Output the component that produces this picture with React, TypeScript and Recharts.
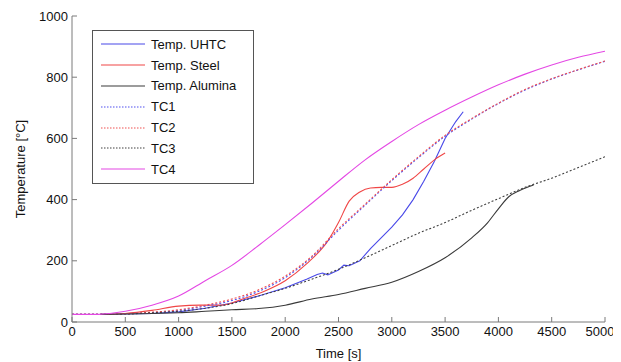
import React from 'react';
import { LineChart, Line, XAxis, YAxis } from 'recharts';

// time grid shared by the thermocouple curves
const tcTime = [0, 250, 500, 750, 1000, 1250, 1500, 1750, 2000, 2250, 2500, 2750, 3000, 3250, 3500, 3750, 4000, 4250, 4500, 4750, 5000];
const tc1 = [25, 25, 27, 31, 38, 52, 70, 100, 145, 212, 300, 382, 462, 537, 607, 663, 714, 758, 794, 824, 852];
const tc2 = [25, 25, 27, 32, 40, 55, 75, 105, 150, 215, 305, 385, 465, 540, 610, 665, 715, 760, 795, 825, 853];
const tc3 = [25, 25, 26, 30, 35, 45, 60, 85, 110, 140, 172, 210, 250, 290, 325, 365, 403, 440, 470, 505, 540];
const tc4 = [25, 25, 35, 55, 85, 135, 185, 250, 318, 388, 460, 530, 590, 645, 692, 735, 775, 810, 840, 865, 885];

const uhtcTime = [270, 500, 750, 1000, 1250, 1500, 1750, 2000, 2200, 2300, 2350, 2400, 2500, 2550, 2600, 2650, 2700, 2800, 2900, 3000, 3100, 3200, 3300, 3400, 3500, 3600, 3670];
const uhtcTemp = [25, 26, 28, 33, 45, 62, 85, 112, 140, 155, 160, 154, 170, 186, 184, 192, 200, 240, 275, 310, 350, 400, 460, 525, 600, 655, 687];

const steelTime = [270, 500, 750, 1000, 1200, 1400, 1600, 1800, 2000, 2200, 2400, 2500, 2600, 2700, 2800, 2900, 3000, 3100, 3200, 3300, 3400, 3500];
const steelTemp = [25, 28, 38, 52, 55, 55, 75, 100, 135, 190, 265, 325, 395, 425, 438, 440, 440, 450, 470, 500, 530, 552];

const aluminaTime = [270, 500, 750, 1000, 1250, 1500, 1750, 2000, 2250, 2500, 2750, 3000, 3250, 3500, 3750, 3900, 4000, 4100, 4200, 4330];
const aluminaTemp = [25, 26, 28, 30, 35, 40, 44, 55, 75, 90, 110, 130, 165, 210, 275, 325, 370, 410, 430, 448];

const xTicks = [0, 500, 1000, 1500, 2000, 2500, 3000, 3500, 4000, 4500, 5000];
const yTicks = [0, 200, 400, 600, 800, 1000];

const toPoints = (t: number[], v: number[]) => t.map((x, i) => ({ t: x, v: v[i] }));

const series = [
  { name: 'Temp. UHTC', data: toPoints(uhtcTime, uhtcTemp), color: '#4848e8', dash: undefined, type: 'linear' },
  { name: 'Temp. Steel', data: toPoints(steelTime, steelTemp), color: '#f04646', dash: undefined, type: 'monotone' },
  { name: 'Temp. Alumina', data: toPoints(aluminaTime, aluminaTemp), color: '#3a3a3a', dash: undefined, type: 'monotone' },
  { name: 'TC1', data: toPoints(tcTime, tc1), color: '#5050f0', dash: '2 2', type: 'monotone' },
  { name: 'TC2', data: toPoints(tcTime, tc2), color: '#f05050', dash: '2 2', type: 'monotone' },
  { name: 'TC3', data: toPoints(tcTime, tc3), color: '#404040', dash: '2 2', type: 'monotone' },
  { name: 'TC4', data: toPoints(tcTime, tc4), color: '#e448e4', dash: undefined, type: 'monotone' },
];

const font = 'Liberation Sans, Arial, sans-serif';
const axisColor = '#7a7a7a';

function LegendBox() {
  return (
    <div style={{ position: 'absolute', left: 84, top: 22, border: '1px solid #555', background: '#fff', width: 160, padding: '3px 0 3px 0', fontFamily: font, fontSize: 13, color: '#111' }}>
      {series.map((s) => (
        <div key={s.name} style={{ display: 'flex', alignItems: 'center', height: 20.8 }}>
          <svg width={52} height={10} style={{ marginLeft: 6 }}>
            <line x1={2} y1={5} x2={46} y2={5} stroke={s.color} strokeWidth={1.2} strokeDasharray={s.dash ? '1.5 1.5' : undefined} />
          </svg>
          <span>{s.name}</span>
        </div>
      ))}
    </div>
  );
}

export default function App() {
  const tickStyle = { fontFamily: font, fontSize: 13, fill: '#111' };
  return (
    <div style={{ position: 'relative', background: '#fff', width: 605, height: 354 }}>
      <LineChart width={605} height={354} margin={{ top: 8, right: 8, bottom: 0, left: 0 }}>
        <XAxis
          xAxisId="bottom"
          dataKey="t"
          type="number"
          domain={[0, 5000]}
          ticks={xTicks}
          allowDataOverflow
          height={40}
          stroke={axisColor}
          tickSize={-5}
          tickMargin={10}
          tick={tickStyle}
          label={{ value: 'Time [s]', position: 'insideBottom', offset: 4, style: { fontFamily: font, fontSize: 13, fill: '#111' } }}
        />
        <XAxis
          xAxisId="top"
          orientation="top"
          dataKey="t"
          type="number"
          domain={[0, 5000]}
          ticks={xTicks}
          height={0}
          stroke={axisColor}
          tickSize={-5}
          tickFormatter={() => ''}
        />
        <YAxis
          yAxisId="left"
          type="number"
          domain={[0, 1000]}
          ticks={yTicks}
          width={64}
          stroke={axisColor}
          tickSize={-5}
          tickMargin={9}
          tick={tickStyle}
          label={{ value: 'Temperature [°C]', angle: -90, position: 'insideLeft', offset: 12, style: { fontFamily: font, fontSize: 13, fill: '#111', textAnchor: 'middle' } }}
        />
        <YAxis
          yAxisId="right"
          orientation="right"
          type="number"
          domain={[0, 1000]}
          ticks={yTicks}
          width={0}
          stroke={axisColor}
          tickSize={-5}
          tickFormatter={() => ''}
        />
        {series.map((s) => (
          <Line
            key={s.name}
            xAxisId="bottom"
            yAxisId="left"
            data={s.data}
            dataKey="v"
            name={s.name}
            type={s.type as any}
            stroke={s.color}
            strokeWidth={1.1}
            strokeDasharray={s.dash}
            dot={false}
            activeDot={false}
            isAnimationActive={false}
          />
        ))}
      </LineChart>
      <LegendBox />
    </div>
  );
}
